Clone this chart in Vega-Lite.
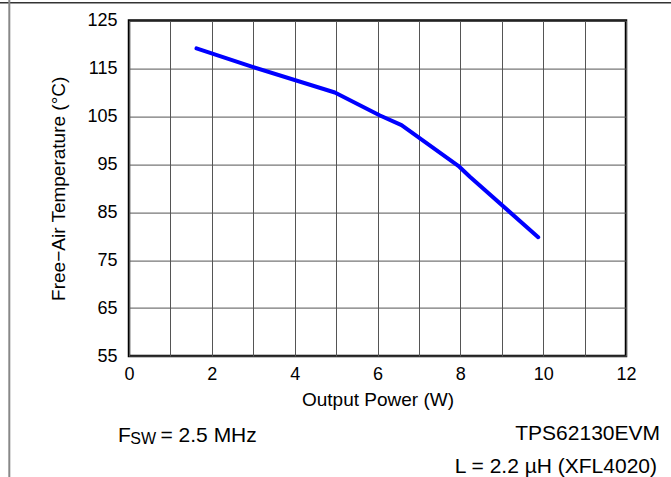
{
  "$schema": "https://vega.github.io/schema/vega-lite/v6.json",
  "width": 497,
  "height": 335.4,
  "autosize": {"type": "none"},
  "padding": {"left": 129, "top": 20.6, "right": 45, "bottom": 121},
  "background": "white",
  "config": {
    "font": "Liberation Sans",
    "view": {"stroke": "black", "strokeWidth": 2.5},
    "axis": {"labelFont": "Liberation Sans", "titleFont": "Liberation Sans", "labelColor": "black", "titleColor": "black", "titleFontWeight": "normal", "domain": false, "ticks": false, "tickSize": 0, "gridColor": "#555555", "gridOpacity": 1, "gridWidth": 1}
  },
  "datasets": {
    "curve": [
      {"power": 1.63, "temp": 119.2},
      {"power": 3.0, "temp": 115.3},
      {"power": 4.97, "temp": 110.0},
      {"power": 6.06, "temp": 105.2},
      {"power": 6.58, "temp": 103.2},
      {"power": 7.95, "temp": 94.7},
      {"power": 8.23, "temp": 92.4},
      {"power": 9.88, "temp": 79.8}
    ],
    "one": [{"k": 1}]
  },
  "layer": [
    {
      "data": {"name": "curve"},
      "mark": {"type": "line", "color": "#0000ff", "strokeWidth": 4, "strokeCap": "round", "strokeJoin": "round"},
      "encoding": {
        "x": {"field": "power", "type": "quantitative", "scale": {"domain": [0, 12], "nice": false, "zero": false},
          "axis": {"title": "Output Power (W)", "values": [0,1,2,3,4,5,6,7,8,9,10,11,12], "labelExpr": "datum.value % 2 == 0 ? datum.label : ''", "labelFontSize": 18, "titleFontSize": 19, "labelPadding": 9, "titlePadding": 7, "labelFlush": false}},
        "y": {"field": "temp", "type": "quantitative", "scale": {"domain": [55, 125], "nice": false, "zero": false},
          "axis": {"title": "Free\u2212Air Temperature (\u00b0C)", "values": [55,65,75,85,95,105,115,125], "labelFontSize": 18, "titleFontSize": 19, "labelPadding": 12, "titlePadding": 18, "labelFlush": false}}
      }
    },
    {
      "data": {"name": "one"},
      "mark": {"type": "text", "text": "F", "align": "left", "baseline": "alphabetic", "fontSize": 21, "font": "Liberation Sans", "color": "black"},
      "encoding": {"x": {"datum": -0.2656}, "y": {"datum": 37.11}}
    },
    {
      "data": {"name": "one"},
      "mark": {"type": "text", "text": "SW", "align": "left", "baseline": "alphabetic", "fontSize": 16, "font": "Liberation Sans", "color": "black"},
      "encoding": {"x": {"datum": 0.0314}, "y": {"datum": 36.53}}
    },
    {
      "data": {"name": "one"},
      "mark": {"type": "text", "text": "= 2.5 MHz", "align": "left", "baseline": "alphabetic", "fontSize": 21, "font": "Liberation Sans", "color": "black"},
      "encoding": {"x": {"datum": 0.7606}, "y": {"datum": 37.11}}
    },
    {
      "data": {"name": "one"},
      "mark": {"type": "text", "text": "TPS62130EVM", "align": "right", "baseline": "alphabetic", "fontSize": 21, "font": "Liberation Sans", "color": "black"},
      "encoding": {"x": {"datum": 12.821}, "y": {"datum": 37.47}}
    },
    {
      "data": {"name": "one"},
      "mark": {"type": "text", "text": "L = 2.2 \u00b5H (XFL4020)", "align": "right", "baseline": "alphabetic", "fontSize": 21, "font": "Liberation Sans", "color": "black"},
      "encoding": {"x": {"datum": 12.749}, "y": {"datum": 30.58}}
    },
    {
      "data": {"name": "one"},
      "mark": {"type": "rule", "color": "#333333", "strokeWidth": 1.5},
      "encoding": {"x": {"datum": -3.12}, "x2": {"datum": 13.1}, "y": {"datum": 128.74}}
    },
    {
      "data": {"name": "one"},
      "mark": {"type": "rule", "color": "#888888", "strokeWidth": 2},
      "encoding": {"x": {"datum": -2.89}, "y": {"datum": 29.7}, "y2": {"datum": 129.4}}
    }
  ]
}
